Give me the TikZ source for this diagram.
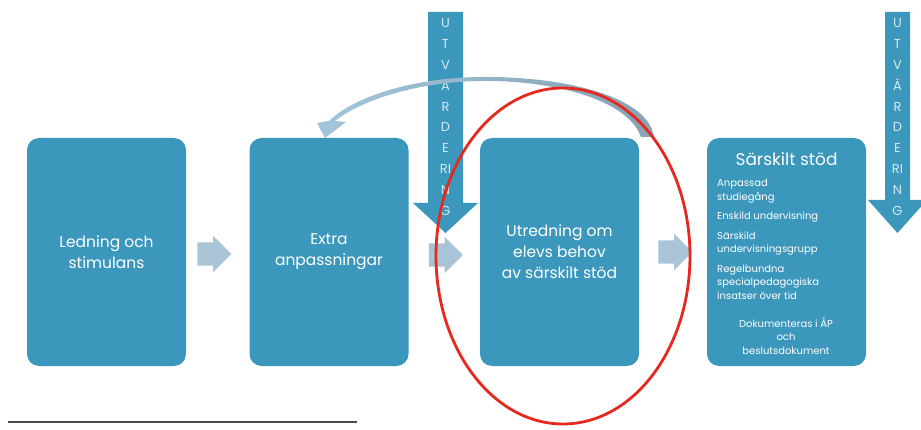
\documentclass[tikz,border=0pt]{standalone}
\usepackage{fontspec}
\setmainfont{Poppins}
\usetikzlibrary{positioning,shapes.arrows}
\definecolor{boxblue}{HTML}{3C97BC}
\definecolor{stepgrey}{HTML}{A9C4D6}
\definecolor{lettercol}{HTML}{D4E9F2}
\definecolor{ringred}{HTML}{E5291F}
\definecolor{backleft}{HTML}{A3C6DB}
\definecolor{backright}{HTML}{86A2B3}

\begin{document}
\begin{tikzpicture}[x=1pt,y=-1pt,on grid,
box/.style ={rounded corners=12pt, fill=boxblue, text=white, align=center,
 minimum width=159pt, minimum height=228pt, inner sep=0pt,
 font=\fontsize{15.5}{21}\selectfont},
stepper/.style ={single arrow, fill=stepgrey, inner sep=0pt, minimum height=34pt,
 single arrow head extend=6.5pt, single arrow head indent=0pt},
letters/.style ={text=lettercol, align=center, inner sep=0pt,
 font=\fontsize{13}{20.8}\selectfont},
small/.style ={text=white, inner sep=0pt, font=\fontsize{10}{13.5}\selectfont}]
\useasboundingbox (0,0) rectangle (921,430);
\node[box] (A) at (106.5,252) {Ledning och\\stimulans};
\node[box] (B) [right = 222.5pt of A] {Extra\\anpassningar};
\node[box] (C) [right = 230.5pt of B] {Utredning om\\elevs behov\\av särskilt stöd};
\node[box] (D) [right = 227pt of C] {};
% steps between the boxes
\node[stepper] (s1) at (208.5,254) {\rule{0pt}{23pt}};
\node[stepper] (s2) at (440,255) {\rule{0pt}{23pt}};
\node[stepper] (s3) at (669.5,252) {\rule{0pt}{23pt}};
% evaluation arrows
\fill[boxblue] (428,12) -- (463,12) -- (463,203) -- (478,203) -- (445.5,233)
 -- (413,203) -- (428,203) -- cycle;
\node[letters] (e1) at (445.5,117) {U\\T\\V\\Ä\\R\\D\\E\\RI\\N\\G};
\fill[boxblue] (885,12) -- (910,12) -- (910,200) -- (927,200) -- (897.5,233)
 -- (868,200) -- (885,200) -- cycle;
\node[letters] (e2) at (897.5,117) {U\\T\\V\\Ä\\R\\D\\E\\RI\\N\\G};
% back arrow
\shade[left color=backleft, middle color=white!94!backleft, right color=backright]
 (654,137) .. controls (648,95) and (560,76) .. (480,77)
 .. controls (410,78) and (352,98) .. (329,121) -- (317,123) -- (325,138) -- (346,122) -- (335,121)
 .. controls (360,101) and (415,82) .. (480,81)
 .. controls (555,80) and (628,100) .. (641,137) -- cycle;
% text of the last box
\node[text=white, font=\fontsize{17}{20}\selectfont] (T) at (786.5,159) {Särskilt stöd};
\node[small, anchor=north west, align=left] (L) at (717,179)
 {Anpassad\\studiegång\\[6pt]Enskild undervisning\\[6pt]Särskild\\undervisningsgrupp\\[6pt]Regelbundna\\specialpedagogiska\\insatser över tid};
\node[small, align=center] (P) at (786,336) {Dokumenteras i ÅP\\och\\beslutsdokument};
% ring
\draw[ringred, line width=2.8pt] (563,256) ellipse [x radius=127, y radius=168];
\draw[black!70, line width=1.6pt] (8,422) -- (357,422);
\end{tikzpicture}
\end{document}
